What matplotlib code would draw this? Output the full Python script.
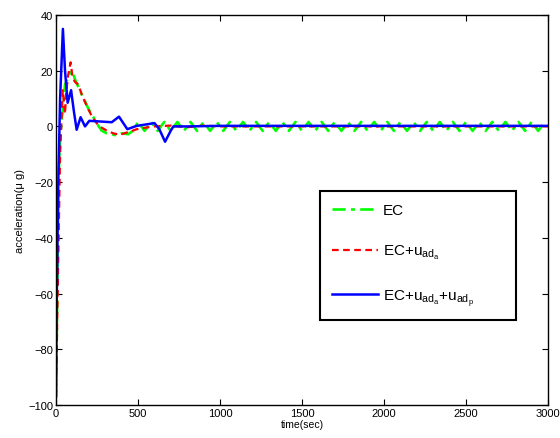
import numpy as np
import matplotlib
matplotlib.use("Agg")
import matplotlib.pyplot as plt

plt.rcParams["font.family"] = ["Liberation Sans", "DejaVu Sans"]
plt.rcParams["mathtext.default"] = "regular"

# =========================
# data (time in sec, acceleration in micro-g)
# =========================

# EC (green, dash-dot): transient part
t_ec = [0, 8, 15, 24, 35, 45, 55, 70, 85, 100, 115, 130, 146, 160, 177, 200,
        228, 250, 278, 310, 340, 370, 400, 440, 470]
ec = [-97, -60, -20, -5.6, 2.6, 8, 15, 17, 19, 20, 17, 15, 13, 11, 9, 6,
      3.3, 1, -1.5, -2.5, -2.8, -3.3, -2.5, -2.8, -1.5]
# EC: steady oscillation, one value every 40 s from t=500
ec_tail = [1.6, -1.6, 1.6, -1.6, 1.6, -1.6, 1.6, -1.6, 1.6, -1.6,
           1.6, -1.6, 1.6, -1.6, 1.6, -1.6, 1.6, -1.6, 1.6, -1.6,
           1.6, -1.6, 1.6, -1.6, 1.6, -1.6, 1.6, -1.6, 1.6, -1.6,
           1.6, -1.6, 1.6, -1.6, 1.6, -1.6, 1.6, -1.6, 1.6, -1.6,
           1.6, -1.6, 1.6, -1.6, 1.6, -1.6, 1.6, -1.6, 1.6, -1.6,
           1.6, -1.6, 1.6, -1.6, 1.6, -1.6, 1.6, -1.6, 1.6, -1.6,
           1.6, -1.6, 1.6]
t_ec_tail = 500 + 40 * np.arange(len(ec_tail))

# EC + u_ad_a (red, dashed)
t_ra = [0, 10, 25, 41, 48, 55, 62, 73, 89, 100, 115, 136, 160, 187, 218, 250,
        280, 309, 350, 390, 431, 470, 492, 540, 600, 700, 800, 900, 1000, 3000]
ra = [-97, -60, -10, 13, 9, 4.5, 12, 18, 23, 18, 16, 15, 11, 7.4, 3.7, 1,
      -0.5, -1.5, -2.5, -3, -2.2, -1.5, -1, -0.5, 0, 0.3, -0.3, 0.3, 0, 0]

# EC + u_ad_a + u_ad_p (blue, solid)
t_b = [0, 5, 14, 25, 42, 55, 71, 92, 110, 126, 150, 177, 203, 260, 340, 384,
       435, 492, 560, 600, 630, 665, 700, 716, 800, 1000, 3000]
b = [-97, -60, -20, 10, 35, 20, 8.5, 13, 5, -1.2, 3.3, 0, 2, 1.8, 1.5, 3.5,
     -1, 0.2, 0.8, 1.2, -1, -5.5, -1.5, 0, 0, 0.2, 0.2]

# =========================
# plot
# =========================

t_green = np.concatenate([t_ec, t_ec_tail])
v_green = np.concatenate([ec, ec_tail])

fig = plt.figure(figsize=(5.6, 4.39), dpi=100)
ax = fig.add_axes([0.1, 0.0752, 0.8786, 0.8884])

ax.plot(t_green, v_green, color=(0, 1, 0), lw=1.9, dashes=(5, 2, 1.5, 2),
        label="EC")
ax.plot(t_ra, ra, color=(1, 0, 0), lw=1.6, dashes=(3, 2),
        label=r"EC+u$_{ad_a}$")
ax.plot(t_b, b, color=(0, 0, 1), lw=1.8,
        label=r"EC+u$_{ad_a}$+u$_{ad_p}$")

ax.set_xlim(0, 3000)
ax.set_ylim(-100, 40)
ax.set_xticks(np.arange(0, 3001, 500))
ax.set_yticks(np.arange(-100, 41, 20))
ax.tick_params(direction="in", top=True, right=True, length=4, labelsize=8, pad=2)
for s in ax.spines.values():
    s.set_linewidth(1.0)

ax.set_xlabel("time(sec)", fontsize=7.5, labelpad=1)
ax.set_ylabel("acceleration(\u03bc g)", fontsize=8, labelpad=2)

# legend box: spans roughly x 320..516, y 192..321 px in the reference
leg = ax.legend(loc="upper left", bbox_to_anchor=(0.537, 0.218, 0.398, 0.331),
                mode="expand", fontsize=11, handlelength=2.95,
                handletextpad=0.33, labelspacing=1.7, borderpad=0.8,
                borderaxespad=0, fancybox=False, framealpha=1,
                edgecolor="black")
leg.get_frame().set_linewidth(1.5)

plt.savefig("out.png", dpi=100)
plt.close()
